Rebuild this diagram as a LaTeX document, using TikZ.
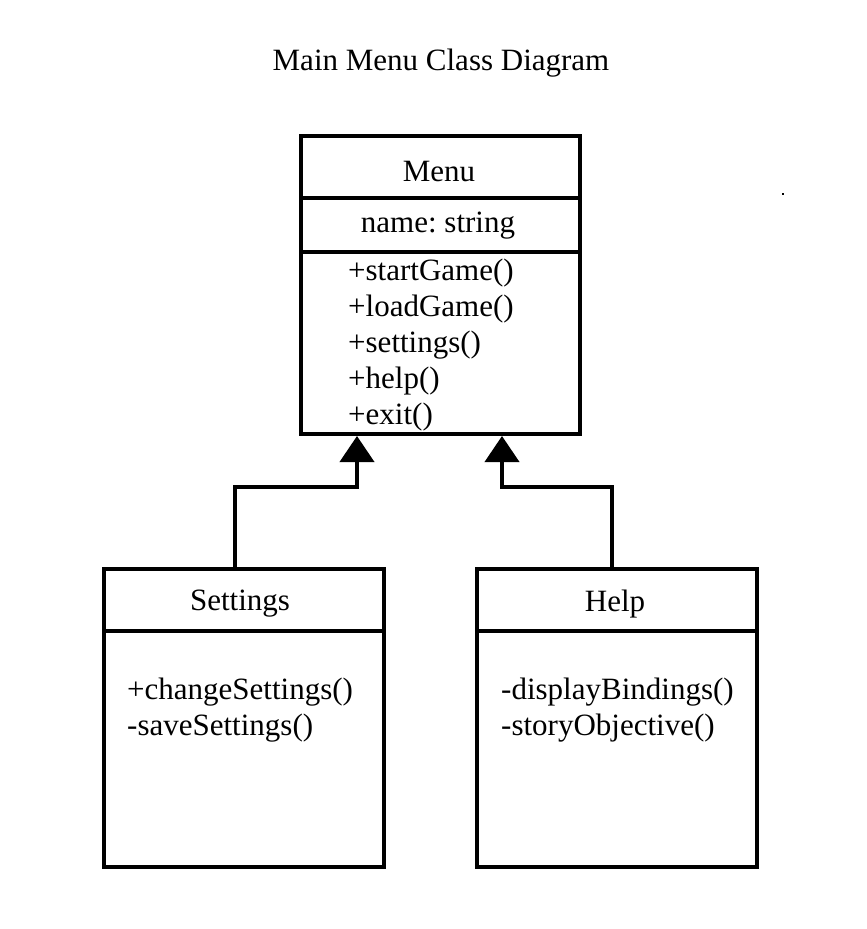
\documentclass[tikz,border=0pt]{standalone}
\usepackage{fontspec}
\setmainfont{Liberation Serif}
\usetikzlibrary{arrows.meta}
\frenchspacing
\begin{document}
\begin{tikzpicture}[x=1pt,y=-1pt,
  umlbox/.style={draw, line width=4pt, rectangle, inner sep=0pt},
  divider/.style={line width=4pt},
  txt/.style={inner sep=0pt, font=\fontsize{31}{36}\selectfont},
  gen/.style={line width=4pt, -{Triangle[length=26pt,width=34pt]}}
]
\useasboundingbox (0,0) rectangle (867,929);
% title
\node[txt] (title) at (441,63) {Main Menu Class Diagram};
% Menu class
\node[umlbox, minimum width=279pt, minimum height=298pt] (menu) at (440.5,285) {};
\draw[divider] (301,197.5) -- (580,197.5);
\draw[divider] (301,252) -- (580,252);
\node[txt] (menutitle) at (439,171) {Menu};
\node[txt] (menuattr) at (438,226) {name: string};
\node[txt, anchor=west, align=left] (menuops) at (348,345) {+startGame()\\+loadGame()\\+settings()\\+help()\\+exit()};
% Settings class
\node[umlbox, minimum width=280pt, minimum height=298pt] (settings) at (244,718) {};
\draw[divider] (104,631) -- (384,631);
\node[txt] (settingstitle) at (240,604) {Settings};
\node[txt, anchor=west, align=left] (settingsops) at (127,710.5) {+changeSettings()\\-saveSettings()};
% Help class
\node[umlbox, minimum width=280pt, minimum height=298pt] (help) at (617,718) {};
\draw[divider] (477,631) -- (757,631);
\node[txt] (helptitle) at (615,604) {Help};
\node[txt, anchor=west, align=left] (helpops) at (501,710) {-displayBindings()\\-storyObjective()};
% generalisation connectors
\coordinate (sbend) at (357,487);
\coordinate (hbend) at (502,487);
\draw[gen] (settings.north -| 235,0) |- (sbend) -- (sbend |- menu.south);
\draw[gen] (help.north -| 612,0) |- (hbend) -- (hbend |- menu.south);
% stray dot
\fill (782,193) rectangle (784,195);
\end{tikzpicture}
\end{document}
